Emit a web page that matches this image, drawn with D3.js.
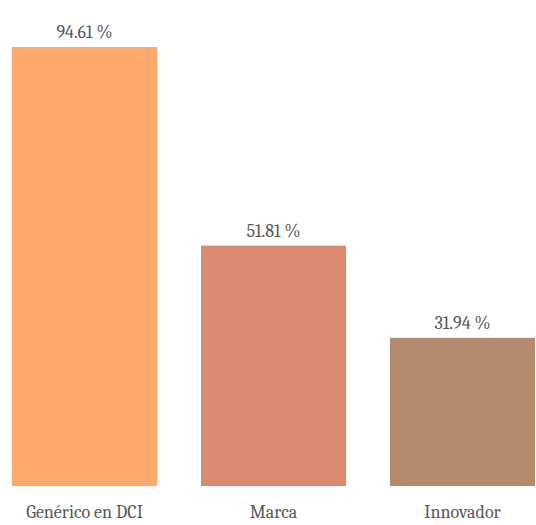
<!DOCTYPE html>
<html>
<head>
<meta charset="utf-8">
<script src="https://cdn.jsdelivr.net/npm/d3@7"></script>
<style>
  html, body { margin: 0; padding: 0; background: #fff; }
  svg { display: block; }
</style>
</head>
<body>
<div id="chart"></div>
<script>
// data
var categories = ["Genérico en DCI", "Marca", "Innovador"];
var values = [94.61, 51.81, 31.94];
var colors = ["#FFA96C", "#DB8A70", "#B5896C"];

var width = 536, height = 525;

var svg = d3.select("#chart").append("svg")
    .attr("width", width)
    .attr("height", height);

// bands: step ~189px, bar ~145px
var x = d3.scaleBand()
    .domain(categories)
    .range([-10, 557])
    .paddingInner(0.233)
    .paddingOuter(0.1165);

var y = d3.scaleLinear()
    .domain([0, 100])
    .range([486, 22]);

var font = "Cambria, 'Liberation Serif', 'DejaVu Serif', serif";

// bars
svg.selectAll("rect.bar")
    .data(values)
    .enter().append("rect")
        .attr("class", "bar")
        .attr("x", function(d, i) { return x(categories[i]); })
        .attr("y", function(d) { return y(d); })
        .attr("width", x.bandwidth())
        .attr("height", function(d) { return y(0) - y(d); })
        .attr("fill", function(d, i) { return colors[i]; });

// value labels
svg.selectAll("text.val")
    .data(values)
    .enter().append("text")
        .attr("class", "val")
        .attr("x", function(d, i) { return x(categories[i]) + x.bandwidth() / 2; })
        .attr("y", function(d) { return y(d) - 9; })
        .attr("text-anchor", "middle")
        .style("font-family", font)
        .style("font-size", "18px")
        .style("fill", "#595959")
        .text(function(d) { return d.toFixed(2) + " %"; });

// category axis labels
var xAxis = d3.axisBottom(x).tickSize(0).tickPadding(0);
var gx = svg.append("g")
    .attr("transform", "translate(0,500)")
    .call(xAxis);
gx.select(".domain").remove();
gx.selectAll("text")
    .attr("dy", "1em")
    .style("font-family", font)
    .style("font-size", "18px")
    .style("fill", "#595959");
</script>
</body>
</html>
